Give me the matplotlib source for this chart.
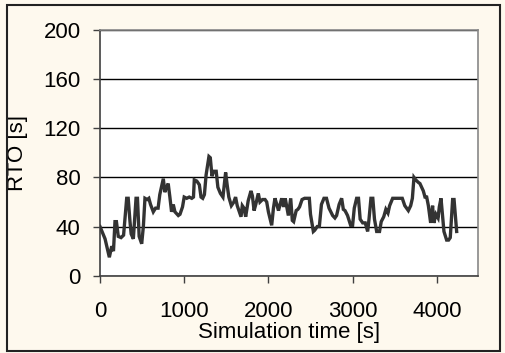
import matplotlib
matplotlib.use("Agg")
import matplotlib.pyplot as plt
from matplotlib.patches import Rectangle

time_s = [0, 60, 111, 139, 160, 178, 195, 217, 250, 280, 317, 335, 355, 370, 396,
          428, 445, 465, 495, 515, 534, 560, 580, 600, 633, 660, 690, 710, 752, 770,
          790, 810, 830, 850, 870, 890, 930, 950, 980, 1000, 1030, 1060, 1090, 1110,
          1120, 1150, 1180, 1200, 1220, 1240, 1260, 1294, 1310, 1330, 1350, 1380,
          1400, 1430, 1460, 1492, 1510, 1530, 1560, 1590, 1610, 1630, 1675, 1690,
          1710, 1730, 1760, 1793, 1810, 1830, 1850, 1880, 1900, 1930, 1960, 1980,
          2000, 2039, 2060, 2078, 2100, 2120, 2158, 2180, 2200, 2237, 2265, 2284,
          2300, 2330, 2350, 2370, 2400, 2430, 2486, 2500, 2534, 2550, 2580, 2605,
          2630, 2660, 2690, 2720, 2763, 2790, 2810, 2840, 2870, 2890, 2910, 2940,
          2977, 3000, 3020, 3048, 3070, 3090, 3120, 3150, 3179, 3195, 3218, 3240,
          3260, 3286, 3320, 3340, 3370, 3395, 3420, 3440, 3476, 3530, 3590, 3620,
          3662, 3690, 3710, 3729, 3750, 3780, 3800, 3820, 3840, 3860, 3880, 3900,
          3927, 3950, 3965, 3990, 4015, 4030, 4050, 4070, 4085, 4117, 4140, 4160,
          4188, 4205, 4236]
rto_s = [40, 30, 15, 24, 20, 44, 44, 32, 31, 33, 63, 63, 45, 34, 30,
         63, 63, 32, 26, 40, 63, 62, 63, 58, 52, 55, 55, 66, 79, 68,
         72, 75, 64, 52, 58, 52, 49, 50, 56, 64, 63, 64, 63, 64,
         78, 77, 74, 64, 63, 66, 82, 97, 96, 81, 85, 85,
         72, 67, 64, 84, 74, 64, 57, 60, 64, 57, 48, 57,
         55, 48, 61, 69, 65, 53, 58, 67, 60, 62, 62, 60,
         52, 41, 55, 63, 58, 53, 63, 56, 63, 49, 63, 45,
         44, 53, 54, 56, 62, 63, 63, 50, 36, 37, 40, 40,
         58, 63, 63, 55, 49, 47, 49, 58, 63, 54, 53, 49,
         41, 41, 55, 63, 63, 46, 43, 43, 36, 46, 63, 63,
         46, 36, 36, 44, 48, 54, 51, 57, 63, 63, 63, 57,
         53, 57, 63, 80, 78, 76, 75, 72, 69, 64, 64, 57,
         43, 57, 43, 50, 47, 56, 63, 47, 36, 29, 29, 31,
         62, 62, 36]

x_ticks = [0, 1000, 2000, 3000, 4000]
y_ticks = [0, 40, 80, 120, 160, 200]
x_label = "Simulation time [s]"
y_label = "RTO [s]"

plt.rcParams['font.family'] = ['Liberation Sans', 'DejaVu Sans']

bg = '#FEF9EE'
fig = plt.figure(figsize=(5.05, 3.53), dpi=100, facecolor=bg)
ax = fig.add_axes([100/505, 1-275.7/353, 378.3/505, 245.7/353])
ax.set_facecolor('white')

# outer border
fig.patches.append(Rectangle((6.5/505, 2/353), 493/505, 346/353, transform=fig.transFigure,
                             fill=False, edgecolor='#222222', linewidth=1.5))

ax.plot(time_s, rto_s, color='#333333', linewidth=2.4, solid_joinstyle='miter', zorder=3)

ax.set_xlim(0, 4493)
ax.set_ylim(0, 200)
ax.set_xticks(x_ticks)
ax.set_yticks(y_ticks)
ax.yaxis.grid(True, color='black', linewidth=1.0)
ax.set_axisbelow(True)

for side in ['top', 'right']:
    ax.spines[side].set_color('#888888')
    ax.spines[side].set_linewidth(1.2)
for side in ['left', 'bottom']:
    ax.spines[side].set_color('#404040')
    ax.spines[side].set_linewidth(1.2)

ax.tick_params(axis='both', direction='out', length=5, width=1, color='#404040',
               labelsize=16)
ax.tick_params(axis='x', pad=13)
ax.tick_params(axis='y', pad=9)

ax.set_xlabel(x_label, fontsize=16)
ax.set_ylabel(y_label, fontsize=16)
ax.xaxis.set_label_coords(0.5, -0.19)
ax.yaxis.set_label_coords(-0.19, 0.5)

fig.savefig('out.png', dpi=100, facecolor=bg)
